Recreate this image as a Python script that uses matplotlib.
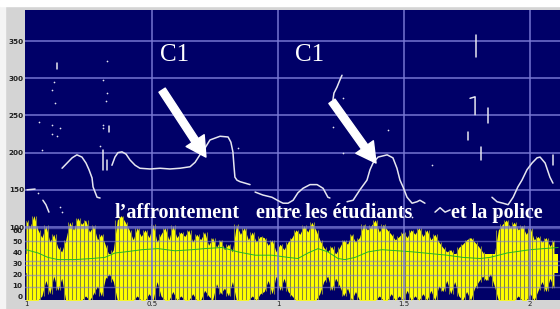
import numpy as np
import matplotlib
matplotlib.use("Agg")
import matplotlib.pyplot as plt
import matplotlib.transforms as mtransforms
from matplotlib.patches import Rectangle

# ---- pitch track (time s, Hz) ----
pitch_segments = [
    ([0.004, 0.036], [150, 151]),
    ([0.067, 0.079, 0.091], [136, 130, 120]),
    ([0.143, 0.163, 0.183, 0.202, 0.222, 0.238, 0.250, 0.262, 0.266, 0.282, 0.294],
     [179, 186, 193, 197, 194, 186, 177, 166, 154, 140, 139]),
    ([0.306, 0.306], [204, 177]),
    ([0.321, 0.321], [190, 177]),
    ([0.341, 0.353, 0.365, 0.381, 0.397, 0.413, 0.433, 0.452, 0.492, 0.532, 0.571, 0.611,
      0.651, 0.671, 0.690, 0.710, 0.730, 0.770, 0.802, 0.813, 0.821, 0.825, 0.829, 0.837,
      0.849, 0.869, 0.889],
     [183, 194, 200, 201, 198, 190, 183, 179, 178, 179, 178, 179,
      181, 187, 197, 206, 217, 222, 221, 214, 201, 183, 167, 163,
      161, 159, 157]),
    ([0.909, 0.940, 0.976, 1.008, 1.020, 1.040, 1.060, 1.079, 1.099, 1.127, 1.155, 1.179,
      1.198, 1.206],
     [147, 143, 140, 134, 132, 132, 136, 146, 152, 157, 157, 152, 140, 139]),
    ([1.274, 1.298, 1.325, 1.353, 1.365, 1.377, 1.397, 1.433, 1.456, 1.472, 1.484, 1.496,
      1.512, 1.532, 1.552, 1.563, 1.583],
     [134, 136, 150, 163, 177, 186, 194, 197, 193, 179, 163, 154,
      140, 132, 134, 136, 132]),
    ([1.623, 1.643, 1.663, 1.683], [120, 126, 120, 123]),
    ([1.849, 1.869, 1.893, 1.913, 1.933, 1.952, 1.968, 1.988, 2.008, 2.028, 2.040, 2.060,
      2.079, 2.091],
     [140, 134, 132, 130, 140, 154, 163, 177, 186, 193, 194, 186, 167, 159]),
    ([1.218, 1.222, 1.234, 1.246, 1.254], [271, 280, 288, 298, 304]),
    ([1.786, 1.786], [358, 329]),
    ([1.762, 1.782, 1.782], [273, 275, 251]),
    ([1.833, 1.833], [260, 240]),
    ([1.754, 1.754], [228, 217]),
    ([1.806, 1.806], [208, 190]),
    ([2.091, 2.091], [197, 183]),
    ([0.123, 0.123], [320, 312]),
    ([0.329, 0.329], [236, 228]),
]

dot_t = [0.321, 0.111, 0.306, 0.103, 0.321, 0.115, 0.317, 0.052, 0.103, 0.135, 0.103,
         0.123, 0.306, 0.306, 0.063, 0.294, 0.135, 0.143, 0.048, 1.258, 1.218, 0.841,
         1.258, 1.437, 1.611, 1.869, 1.944, 1.087, 1.532]
dot_hz = [323, 295, 298, 284, 280, 267, 269, 241, 237, 233, 225,
          222, 237, 233, 204, 209, 127, 120, 146, 273, 234, 206,
          200, 230, 183, 116, 130, 116, 114]

# ---- waveform (amplitude units of the lower scale) ----
wave_top = [70, 63, 74, 61, 54, 65, 50, 57, 45, 41,
            52, 68, 61, 72, 66, 70, 59, 65, 52, 57,
            47, 37, 43, 70, 74, 68, 61, 52, 63, 55,
            61, 54, 66, 50, 57, 63, 52, 65, 54, 59,
            55, 61, 50, 57, 52, 59, 47, 54, 45, 52,
            43, 48, 41, 66, 57, 63, 52, 59, 50, 55,
            54, 47, 52, 41, 48, 43, 50, 54, 61, 57,
            65, 59, 68, 61, 52, 45, 41, 46, 39, 45,
            52, 48, 57, 50, 54, 66, 61, 65, 70, 59,
            66, 61, 57, 52, 55, 59, 54, 61, 57, 63,
            55, 61, 52, 57, 50, 45, 41, 43, 37, 45,
            48, 52, 54, 50, 46, 41, 35, 34, 39, 61,
            66, 70, 63, 68, 61, 65, 57, 63, 52, 55,
            50, 54, 46, 52]
wave_bot = [-3, -3, -3, -3, 1, 15, 3, 19, 6, 17,
            -3, -3, -3, -3, -3, 1, -3, 3, 10, 1,
            17, 21, 14, -3, -3, -3, -3, -3, 1, -3,
            -3, 3, -3, 14, 1, -3, -3, 5, -3, 1,
            -3, -3, 3, -3, -3, 6, 1, -3, 12, 3,
            8, 1, 14, -3, -3, -3, -3, 1, -3, 3,
            5, 15, 3, 19, 6, 17, 5, 1, -3, -3,
            -3, -3, -3, -3, 3, 14, 19, 6, 17, 10,
            1, 8, -3, 5, -3, -3, -3, -3, -3, 1,
            -3, -3, 3, -3, 1, -3, 6, -3, 1, -3,
            3, -3, 6, -3, 10, 5, 15, 3, 14, 1,
            -3, 5, -3, 8, 14, 19, 15, 21, 10, -3,
            -3, -3, -3, -3, 1, -3, -3, 3, -3, 6,
            14, 5, 17, 8]
wave_t = np.linspace(0.0, 2.095, len(wave_top))

# intensity curve (green)
int_t = [0.000, 0.048, 0.087, 0.127, 0.194, 0.262, 0.313, 0.353, 0.393, 0.460, 0.524,
         0.591, 0.659, 0.710, 0.778, 0.841, 0.909, 0.976, 1.040, 1.079, 1.119, 1.159,
         1.198, 1.238, 1.266, 1.306, 1.357, 1.413, 1.536, 1.671, 1.734, 1.802, 1.841,
         1.909, 2.000, 2.111]
int_amp = [43, 40, 36, 34, 34, 35, 36, 40, 41, 43, 44,
           42, 43, 44, 45, 41, 38, 38, 36, 35, 40, 44,
           41, 35, 34, 36, 41, 43, 41, 38, 36, 35, 36,
           40, 43, 45]

pitch_ticks = [100, 150, 200, 250, 300, 350]
amp_ticks = [0, 10, 20, 30, 40, 50, 60]
amp_grid = [9, 20, 29, 33, 51, 63]
time_ticks = [0, 0.5, 1, 1.5, 2]
time_labels = ["1", "0.5", "1", "1.5", "2"]

NAVY = "#000068"
GRID = "#7b7bd6"
LABEL_FONT = dict(family="DejaVu Sans", weight="bold", size=5.2, color="#202020")

fig = plt.figure(figsize=(5.6, 3.09), dpi=100)
fig.patch.set_facecolor("#d4d4d4")
fig.patches.append(Rectangle((0, 0), 5 / 560, 1, transform=fig.transFigure,
                             color="#f4f4f4", zorder=0))
fig.patches.append(Rectangle((0, 1 - 6 / 309), 1, 6 / 309, transform=fig.transFigure,
                             color="#ffffff", zorder=0))

rect = [25 / 560, 9 / 309, 535 / 560, 290 / 309]
xlim = (-0.004, 2.119)

# lower axes: waveform
ax = fig.add_axes(rect)
ax.set_facecolor(NAVY)
ax.set_xlim(*xlim)
ax.set_ylim(-2.73, 260.9)
ax.fill_between([0, 2.11], 22, 39, color="#ffff00", lw=0, zorder=1)
ax.fill_between(wave_t, wave_bot, wave_top, color="#ffff00", lw=0, zorder=2)
# thin darker strokes through the waveform
mid_t = (wave_t[:-1] + wave_t[1:]) / 2
mid_top = np.maximum(wave_top[:-1], wave_top[1:])
mid_bot = np.minimum(wave_bot[:-1], wave_bot[1:])
ax.vlines(mid_t, mid_bot, mid_top, color="#85853a", lw=0.75, zorder=3)
ax.plot(int_t, int_amp, color="#22b822", lw=0.7, zorder=4)
for g in amp_grid:
    ax.axhline(g, color=GRID, lw=1.0, alpha=0.6, zorder=5)
ax.set_yticks(amp_ticks)
ax.set_yticklabels([str(v) for v in amp_ticks], **LABEL_FONT)
ax.tick_params(axis="y", length=0, pad=2)
ax.set_xticks([])
for s in ax.spines.values():
    s.set_visible(False)

# upper axes: pitch, grid, annotations
axp = fig.add_axes(rect)
axp.patch.set_visible(False)
axp.set_xlim(*xlim)
axp.set_ylim(1.9, 391.7)
for hz in pitch_ticks:
    axp.axhline(hz, color=GRID, lw=1.4, alpha=0.75, zorder=1)
for t in time_ticks[1:]:
    axp.axvline(t, color=GRID, lw=1.4, alpha=0.75, zorder=1)
for ts, hs in pitch_segments:
    axp.plot(ts, hs, color="#e6e6f0", lw=1.1, solid_capstyle="round", zorder=3)
axp.scatter(dot_t, dot_hz, s=1.5, color="#e6e6f0", lw=0, zorder=3)

axp.set_yticks(pitch_ticks)
axp.set_yticklabels([str(v) for v in pitch_ticks], **LABEL_FONT)
# pitch labels sit a little above their grid lines
lift = mtransforms.ScaledTranslation(0, 3 / 100, fig.dpi_scale_trans)
for lbl in axp.get_yticklabels():
    lbl.set_transform(lbl.get_transform() + lift)
axp.set_xticks(time_ticks)
axp.set_xticklabels(time_labels, family="DejaVu Sans", size=5, color="#202020")
axp.tick_params(length=0, pad=0.8)
for s in axp.spines.values():
    s.set_visible(False)

arrow_style = "simple,head_width=1.15,head_length=1.05,tail_width=0.4"
axp.annotate("", xy=(0.714, 194), xytext=(0.540, 284),
             arrowprops=dict(arrowstyle=arrow_style, color="white", mutation_scale=13.5,
                             shrinkA=0, shrinkB=0), zorder=6)
axp.annotate("", xy=(1.389, 186), xytext=(1.214, 269),
             arrowprops=dict(arrowstyle=arrow_style, color="white", mutation_scale=13.5,
                             shrinkA=0, shrinkB=0), zorder=6)

axp.text(0.591, 331, "C1", family="Liberation Serif", size=18, color="white",
         ha="center", va="center", zorder=6)
axp.text(1.127, 331, "C1", family="Liberation Serif", size=18, color="white",
         ha="center", va="center", zorder=6)

phrase_kw = dict(family="Liberation Serif", weight="bold", size=14.5, color="white",
                 ha="left", va="baseline", zorder=6)
axp.text(0.353, 112, "l’affrontement", **phrase_kw)
axp.text(0.913, 112, "entre les étudiants", **phrase_kw)
axp.text(1.687, 112, "et la police", **phrase_kw)

fig.savefig("out.png", dpi=100, facecolor=fig.get_facecolor())
